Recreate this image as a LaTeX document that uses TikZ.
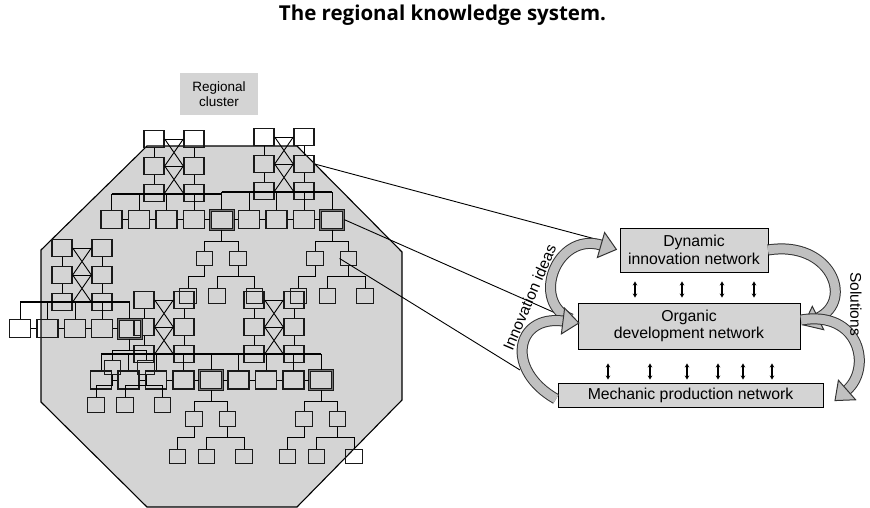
\documentclass[tikz,border=0pt]{standalone}
\usepackage{fontspec}
\setmainfont{Liberation Sans}
\newfontfamily\headfont{Open Sans}
\usetikzlibrary{calc,arrows.meta}
\definecolor{boxgray}{RGB}{212,212,212}
\definecolor{arrowgray}{RGB}{192,192,192}
\tikzset{
  cell/.style={draw=black!90, line width=1.35pt, minimum width=21pt, minimum height=18pt, inner sep=0pt},
  mcell/.style={cell, minimum width=20pt, minimum height=17pt},
  leaf/.style={cell, minimum width=16.5pt, minimum height=14.5pt},
  hub/.style={cell, minimum width=23pt, minimum height=19pt, line width=1pt, double=black!55, double distance=1pt},
  link/.style={line width=0.9pt},
  bus/.style={line width=2pt},
  netbox/.style={draw, fill=boxgray, line width=0.9pt, align=center, inner sep=0pt, font=\fontsize{15.8}{17.4}\selectfont},
  updown/.style={line width=1.2pt, <->, >={Stealth[length=4pt,width=4.5pt]}},
  bandout/.style={line width=11pt, black!80},
  bandin/.style={line width=9pt, arrowgray},
  bandhead/.style={fill=arrowgray, draw=black!80, line width=1pt},
}
\begin{document}
\begin{tikzpicture}[x=1pt, y=-1pt]
\useasboundingbox (0,0) rectangle (870,508);
\node[font=\headfont\bfseries\fontsize{20.5}{22}\selectfont] (title) at (442.5,15.5) {The regional knowledge system.};

% the regional cluster
\filldraw[fill=boxgray, line width=1.1pt] (147,146) -- (297,146) -- (402,252) -- (402,400) -- (297,507) -- (147,507) -- (41,402) -- (41,250) -- cycle;
\node[fill=boxgray, minimum width=78pt, minimum height=42pt, align=center, font=\fontsize{13.5}{15}\selectfont] (regional) at (219,94) {Regional\\cluster};

% meshes
\foreach \m/\x/\y in {A/154/139, B/264/137, C/62/248, D/144/300, E/254/300} {
  \foreach \k in {1,2,3} {
    \node[mcell] (m\m-l\k) at (\x,\y+27*\k-27) {};
    \node[mcell] (m\m-r\k) at (\x+40,\y+27*\k-27) {};
    \draw[link] (m\m-l\k.east) -- (m\m-r\k.west);
  }
  \draw[link] (m\m-l1) -- (m\m-l2) -- (m\m-l3) (m\m-r1) -- (m\m-r2) -- (m\m-r3);
  \draw[link] (m\m-l1.east) -- (m\m-r2.west) (m\m-r1.west) -- (m\m-l2.east);
  \draw[link] (m\m-l2.east) -- (m\m-r3.west) (m\m-r2.west) -- (m\m-l3.east);
}

% rows
\foreach \i/\x/\st in {1/111.5/cell, 2/139/cell, 3/166.5/cell, 4/194/cell, 5/221.5/hub, 6/249/cell, 7/276.5/cell, 8/304/cell, 9/332/hub}
  \node[\st] (rT-\i) at (\x,219.5) {};
\foreach \i/\x/\st in {1/20/cell, 2/47.5/cell, 3/75/cell, 4/102/cell, 5/129.5/hub}
  \node[\st] (rL-\i) at (\x,328.5) {};
\foreach \i/\x/\st in {1/101/cell, 2/128.5/cell, 3/156/cell, 4/183.5/cell, 5/211/hub, 6/238.5/cell, 7/266/cell, 8/293.5/cell, 9/321/hub}
  \node[\st] (rB-\i) at (\x,380) {};
\foreach \i [remember=\i as \p (initially 1)] in {2,...,9} {
  \draw[link] (rT-\p.east) -- (rT-\i.west);
  \draw[link] (rB-\p.east) -- (rB-\i.west);
}
\foreach \i [remember=\i as \p (initially 1)] in {2,...,5}
  \draw[link] (rL-\p.east) -- (rL-\i.west);

% buses
\coordinate (busT1) at (0,194);
\coordinate (busT2) at (0,192);
\coordinate (busL) at (0,302);
\coordinate (busB) at (0,354);
\foreach \i in {1,...,4} \draw[link] (rT-\i.north) -- (rT-\i.north |- busT1);
\foreach \i in {5,...,9} \draw[link] (rT-\i.north) -- (rT-\i.north |- busT2);
\foreach \i in {1,...,5} \draw[link] (rL-\i.north) -- (rL-\i.north |- busL);
\foreach \i in {1,...,9} \draw[link] (rB-\i.north) -- (rB-\i.north |- busB);
\draw[bus] (rT-1.north |- busT1) -- (rT-5.north |- busT1);
\draw[bus] (rT-5.north |- busT2) -- (rT-9.north |- busT2);
\draw[bus] (rL-1.north |- busL) -- (rL-5.north |- busL);
\draw[bus] (rB-1.north |- busB) -- (rB-9.north |- busB);

% trees below the hubs
\foreach \h in {rT-5, rT-9, rL-5, rB-5, rB-9} {
  \node[leaf] (\h-c1) at ($(\h)+(-17,39)$) {};
  \node[leaf] (\h-c2) at ($(\h)+(16.5,39)$) {};
  \node[leaf] (\h-g1) at ($(\h)+(-33.5,76.5)$) {};
  \node[leaf] (\h-g2) at ($(\h)+(-4.5,76.5)$) {};
  \node[leaf] (\h-g3) at ($(\h)+(33,76.5)$) {};
  \draw[link] (\h.south) -- ++(0,11.5) -| (\h-c1.north);
  \draw[link] (\h.south) ++(0,11.5) -| (\h-c2.north);
  \draw[link] (\h-c1.south) -- ++(0,10.5) -| (\h-g1.north);
  \draw[link] (\h-c2.south) -- ++(0,10.5) -| (\h-g2.north);
  \draw[link] (\h-c2.south) ++(0,10.5) -| (\h-g3.north);
}

% knowledge networks
\node[netbox, minimum width=148pt, minimum height=44pt] (dyn) at (694,250) {Dynamic\\innovation network};
\node[netbox, minimum width=222pt, minimum height=46pt] (org) at (689,326) {Organic\\development network};
\node[netbox, minimum width=265pt, minimum height=24pt] (mech) at (690.5,395) {Mechanic production network};

\coordinate (ideaA) at ($(dyn.west)+(-13,-8)$);
\coordinate (ideaB) at ($(org.west)+(-4,-5)$);
\coordinate (ideaC) at (520,370);
\draw[link] (mB-r2.east) -- (ideaA);
\draw[link] (rT-9.east) -- (ideaB);
\draw[link] (rT-9-c2.west) -- (ideaC);

% curved arrows
\coordinate (a1s) at (571,319); \coordinate (a1p) at (530,302); \coordinate (a1q) at (556,232); \coordinate (a1e) at (601,245);
\coordinate (a2s) at (556,399); \coordinate (a2p) at (505,370); \coordinate (a2q) at (515,315); \coordinate (a2e) at (563,321);
\coordinate (a3s) at (768,250); \coordinate (a3p) at (830,240); \coordinate (a3q) at (855,300); \coordinate (a3e) at (818,318);
\coordinate (a4s) at (801,320); \coordinate (a4p) at (860,310); \coordinate (a4q) at (872,368); \coordinate (a4e) at (847,390);
\foreach \a in {1,2,3,4} {
  \draw[bandout] (a\a s) .. controls (a\a p) and (a\a q) .. (a\a e);
  \draw[bandin] (a\a s) .. controls (a\a p) and (a\a q) .. (a\a e);
  \filldraw[bandhead] ($(a\a e)!13pt!90:(a\a q)$) -- ($(a\a e)!-16pt!(a\a q)$) -- ($(a\a e)!13pt!-90:(a\a q)$) -- cycle;
}

% exchanges between the networks
\foreach \x in {635,682,722,754}
  \draw[updown] ($(dyn.south -| \x,0)+(0,9)$) -- ($(org.north -| \x,0)+(0,-5)$);
\foreach \x in {608,650,687,718,743,772}
  \draw[updown] ($(org.south -| \x,0)+(0,14)$) -- ($(mech.north -| \x,0)+(0,-3)$);

\node[rotate=67, font=\fontsize{15.5}{17}\selectfont] (ideas) at (529.5,297.5) {Innovation ideas};
\node[rotate=-90, font=\fontsize{15.5}{17}\selectfont] (solutions) at (856,304) {Solutions};
\end{tikzpicture}
\end{document}
